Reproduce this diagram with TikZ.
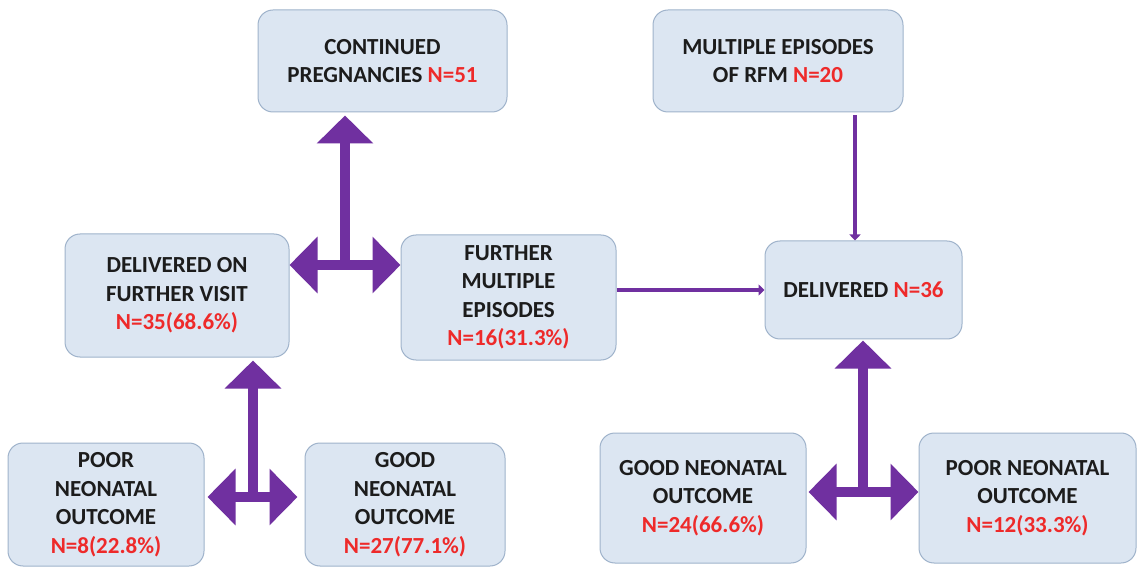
\documentclass[tikz,border=0pt]{standalone}
\usepackage{fontspec}
\setmainfont{Carlito}
\usetikzlibrary{arrows.meta}
\definecolor{boxfill}{HTML}{DCE6F2}
\definecolor{boxline}{HTML}{9FB3CB}
\definecolor{arrowpurple}{HTML}{7030A0}
\definecolor{numred}{HTML}{EE2A2A}
\definecolor{txt}{HTML}{1C1C1C}
\newcommand{\nred}[1]{\textcolor{numred}{#1}}
\begin{document}
\begin{tikzpicture}[x=1pt,y=-1pt,
  box/.style={draw=boxline, line width=1pt, fill=boxfill, rounded corners=15pt,
    align=center, font=\fontsize{23}{28.5}\selectfont\bfseries, text=txt, inner sep=0pt},
  fat/.style={draw=arrowpurple, line width=10pt, -{Triangle[width=55pt,length=28pt]}},
  thinarrow/.style={draw=arrowpurple, line width=3.5pt, -{Triangle[width=11pt,length=6pt]}}]
\useasboundingbox[fill=white] (0,0) rectangle (1138,569);

\node[box, minimum width=249pt, minimum height=102pt] (cont) at (382.5,61) {CONTINUED\\PREGNANCIES \nred{N=51}};
\node[box, minimum width=250pt, minimum height=102pt] (rfm) at (778,61) {MULTIPLE EPISODES\\OF RFM \nred{N=20}};
\node[box, minimum width=224pt, minimum height=123pt] (dfv) at (177,295.5) {DELIVERED ON\\FURTHER VISIT\\\nred{N=35(68.6\%)}};
\node[box, minimum width=215pt, minimum height=125pt] (fme) at (508.5,297.5) {FURTHER\\MULTIPLE\\EPISODES\\\nred{N=16(31.3\%)}};
\node[box, minimum width=197pt, minimum height=98pt] (del) at (863.5,290) {DELIVERED \nred{N=36}};
\node[box, minimum width=196pt, minimum height=123pt] (pl) at (106,504.5) {POOR\\NEONATAL\\OUTCOME\\\nred{N=8(22.8\%)}};
\node[box, minimum width=200pt, minimum height=123pt] (gl) at (405,504.5) {GOOD\\NEONATAL\\OUTCOME\\\nred{N=27(77.1\%)}};
\node[box, minimum width=206pt, minimum height=130pt] (gr) at (703,498) {GOOD NEONATAL\\OUTCOME\\\nred{N=24(66.6\%)}};
\node[box, minimum width=217pt, minimum height=130pt] (pr) at (1027.5,498) {POOR NEONATAL\\OUTCOME\\\nred{N=12(33.3\%)}};

% fat T-arrows
\coordinate (j1) at (345,265);
\draw[fat, shorten >=3pt] (j1) -- (cont.south -| j1);
\draw[fat] (j1) -- (dfv.east |- j1);
\draw[fat] (j1) -- (fme.west |- j1);

\coordinate (j2) at (253,497);
\draw[fat, shorten >=3pt] (j2) -- (dfv.south -| j2);
\draw[fat, shorten >=3pt] (j2) -- (pl.east |- j2);
\draw[fat, shorten >=7pt] (j2) -- (gl.west |- j2);

\coordinate (j3) at (863,492);
\draw[fat, shorten >=1pt] (j3) -- (del.south -| j3);
\draw[fat, shorten >=2pt] (j3) -- (gr.east |- j3);
\draw[fat] (j3) -- (pr.west |- j3);

% thin arrows
\coordinate (c1) at (855,0);
\draw[thinarrow, shorten <=3pt] (rfm.south -| c1) -- (del.north -| c1);
\draw[thinarrow] (fme.east |- del.west) -- (del.west);
\end{tikzpicture}
\end{document}
